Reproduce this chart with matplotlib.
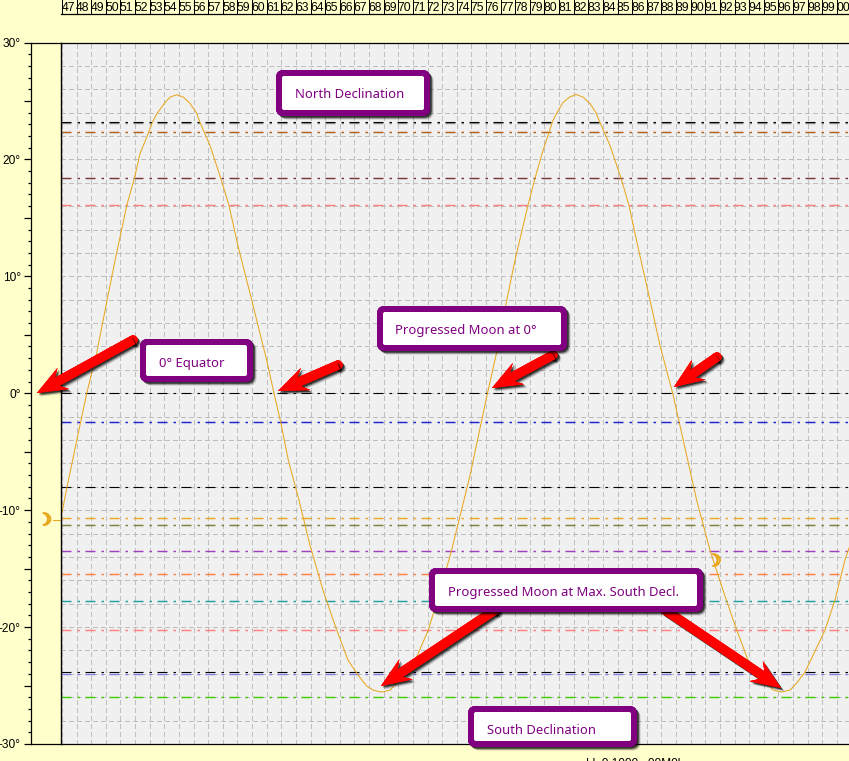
import numpy as np
import matplotlib
matplotlib.use("Agg")
import matplotlib.pyplot as plt
import matplotlib.patheffects as pe
from matplotlib.patches import FancyBboxPatch, Polygon, Circle

plt.rcParams['lines.scale_dashes'] = False

W, H = 849, 761
BG = '#FFFFCC'
PLOT_BG = '#F0F0F0'
GRID = '#BEBEBE'
PURPLE = '#800080'
MOON = '#E8A820'
PX = 0.72  # one pixel in points at dpi 100

# ---- data -----------------------------------------------------------------
years = [46.9, 47.41, 48.69, 49.37, 50.08, 50.63, 51.43, 51.95, 52.34, 52.79, 53.18, 53.48,
         54.05, 54.39, 54.85, 55.3, 55.76, 56.21, 56.44, 57.12, 57.86, 58.42, 59.06, 59.98,
         61.0, 61.5, 61.96, 62.48, 63.21, 63.96, 64.85, 65.67, 66.56, 67.25, 67.84, 68.29,
         68.87, 69.43, 69.89, 70.53, 71.26, 72.05, 72.85, 73.65, 74.91, 76.1, 76.73, 77.42,
         77.98, 78.87, 79.35, 79.9, 80.58, 80.81, 81.27, 81.72, 82.16, 82.63, 83.11, 83.54,
         83.8, 84.48, 85.24, 85.78, 86.4, 87.22, 87.9, 88.77, 89.34, 90.41, 91.32, 92.21,
         93.03, 93.92, 94.54, 95.2, 95.65, 96.23, 96.8, 97.25, 97.82, 99.19, 99.87, 100.55,
         100.9]
declination = [-10.85, -7.6, 0.0, 3.42, 7.95, 11.37, 16.07, 18.38, 20.51, 21.88, 23.16, 23.9,
               24.87, 25.33, 25.53, 25.33, 24.79, 23.95, 23.16, 21.2, 18.38, 16.07, 12.48, 7.95,
               2.82, 0.0, -2.48, -5.73, -9.15, -12.99, -16.84, -19.83, -22.82, -24.1, -25.04,
               -25.4, -25.56, -25.4, -24.79, -23.85, -22.56, -20.26, -17.0, -13.42, -7.01, 0.0,
               3.5, 7.95, 11.37, 16.07, 18.38, 20.77, 23.33, 23.9, 24.87, 25.33, 25.56, 25.33,
               24.79, 23.95, 23.16, 21.2, 18.38, 16.07, 12.48, 7.95, 4.1, 0.0, -3.16, -9.15,
               -13.42, -16.84, -19.83, -22.82, -24.0, -24.79, -25.38, -25.56, -25.38, -24.79,
               -23.85, -20.26, -17.69, -14.27, -13.0]

level_values = [23.08, 23.16, 22.35, 18.4, 16.13, 0.0, -2.5, -8.0, -10.71, -11.31,
                -13.53, -15.5, -17.8, -20.29, -23.99, -23.82, -25.96]
level_colors = ['#909090', '#000000', '#B06018', '#783838', '#FF8080', '#000000',
                '#2020D0', '#000000', '#E8A820', '#808040', '#A040C0', '#FF8040',
                '#20A0A0', '#FF8080', '#8080E0', '#000000', '#40D000']

year_values = list(range(47, 101))
year_labels = [f'{y % 100:02d}' for y in year_values]
moon_marks = [(46.9, -10.85), (91.6, -14.36)]

y_major = list(range(-30, 31, 5))
y_labels = {-30: '-30°', -20: '-20°', -10: '-10°', 0: '0°', 10: '10°', 20: '20°', 30: '30°'}

# ---- figure ---------------------------------------------------------------
fig = plt.figure(figsize=(W / 100, H / 100), dpi=100, facecolor=BG)
L, R, T, B = 60.5, 849.0, 42.5, 744.0
ax = fig.add_axes([L / W, 1 - B / H, (R - L) / W, (B - T) / H], facecolor=PLOT_BG)
xlim = (46.897, 100.83)
ax.set_xlim(*xlim)
ax.set_ylim(-30, 30)

# grid
for yr in year_values:
    ax.axvline(yr, color=GRID, lw=PX, dashes=(4.5 * PX, 3.5 * PX), zorder=1, antialiased=False)
for v in range(-28, 30, 2):
    ax.axhline(v, color=GRID, lw=PX, dashes=(4.5 * PX, 3.5 * PX), zorder=1, antialiased=False)

# reference levels
for v, c in zip(level_values, level_colors):
    width = 1.1 if c == '#000000' else 1.45
    ax.axhline(v, color=c, lw=width * PX, dashes=(10 * PX, 6 * PX, 2.5 * PX, 5.5 * PX), zorder=2)

# curve
ax.plot(years, declination, color=MOON, lw=0.75, zorder=3)

# axes decoration
ax.xaxis.set_visible(False)
ax.spines['right'].set_visible(False)
ax.spines['top'].set_linewidth(0.9)
ax.spines['bottom'].set_linewidth(0.9)
ax.spines['left'].set_position(('outward', 30 * PX))
ax.spines['left'].set_linewidth(0.9)
ax.axvline(xlim[0], color='black', lw=1.0, zorder=5, clip_on=False)
ax.set_yticks(y_major)
ax.set_yticklabels([y_labels.get(v, '') for v in y_major], fontfamily='Liberation Sans', fontsize=8.6)
ax.set_yticks(range(-30, 31), minor=True)
ax.tick_params(axis='y', which='major', length=7 * PX, width=0.9, pad=2)
ax.tick_params(axis='y', which='minor', length=3 * PX, width=0.9)
tr = ax.get_yaxis_transform()
for v in (30, -30):
    ax.plot([-30 / (R - L), 0], [v, v], transform=tr, color='black', lw=0.9, clip_on=False)

# year strip on top
ax_top = fig.add_axes([L / W, 1 - 13.5 / H, (R - L) / W, 13.5 / H], facecolor=BG)
ax_top.set_xlim(*xlim)
ax_top.set_ylim(0, 1)
ax_top.set_yticks([])
ax_top.set_xticks([])
for s in ('top', 'right', 'left'):
    ax_top.spines[s].set_visible(False)
ax_top.spines['bottom'].set_linewidth(0.9)
for yr, lab in zip(year_values, year_labels):
    ax_top.axvline(yr, color='black', lw=0.72)
    ax_top.text(yr + 0.42, 0.42, lab, ha='center', va='center',
                fontfamily='Liberation Sans', fontsize=8.8, color='black')

# overlay in pixel coordinates for the callouts
ov = fig.add_axes([0, 0, 1, 1], facecolor='none', zorder=10)
ov.set_xlim(0, W)
ov.set_ylim(H, 0)
ov.axis('off')

shadow = [pe.withSimplePatchShadow(offset=(2.6, -2.6), shadow_rgbFace='black', alpha=0.15),
          pe.withSimplePatchShadow(offset=(1.9, -1.9), shadow_rgbFace='black', alpha=0.35),
          pe.withSimplePatchShadow(offset=(1.2, -1.2), shadow_rgbFace='black', alpha=0.6),
          pe.Normal()]


def arrow(tail, tip, z=11):
    tail, tip = np.array(tail, float), np.array(tip, float)
    u = (tip - tail) / np.hypot(*(tip - tail))
    n = np.array([-u[1], u[0]])
    hw, sw = 12.0, 4.6
    pts = [tip, tip - 30 * u + hw * n, tip - 23 * u + sw * n, tail + sw * n,
           tail - sw * n, tip - 23 * u - sw * n, tip - 30 * u - hw * n]
    ov.add_patch(Circle(tail, sw, fc='#FF0000', ec='none', zorder=z, path_effects=shadow))
    ov.add_patch(Polygon(pts, closed=True, fc='#FF0000', ec='none', zorder=z, path_effects=shadow))


def callout(x0, y0, x1, y1, text, tx, ty):
    b = 6
    ov.add_patch(FancyBboxPatch((x0 + b, y0 + b), x1 - x0 - 2 * b, y1 - y0 - 2 * b,
                                boxstyle='round,pad=6,rounding_size=8', fc=PURPLE, ec='none',
                                zorder=12, path_effects=shadow))
    ov.add_patch(FancyBboxPatch((x0 + b, y0 + b), x1 - x0 - 2 * b, y1 - y0 - 2 * b,
                                boxstyle='round,pad=0,rounding_size=2', fc='white', ec='none', zorder=13))
    ov.text(tx, ty, text, color=PURPLE, ha='left', va='center',
            fontfamily='Noto Sans', fontsize=9.4, zorder=14)


arrow((133, 340), (37, 393))
arrow((338, 365), (278, 391))
arrow((553, 355), (492, 388))
arrow((717, 357), (674, 387))
arrow((495, 610), (381, 686))
arrow((665, 610), (781, 688))

callout(276, 70, 430, 116, 'North Declination', 295, 94.5)
callout(140, 339, 253, 382, '0° Equator', 159, 363.5)
callout(377, 306, 567, 351, 'Progressed Moon at 0°', 395, 330.5)
callout(429, 568, 703, 612, 'Progressed Moon at Max. South Decl.', 448, 592.5)
callout(468, 706, 637, 747, 'South Declination', 487, 730.5)

# moon glyphs tied to the data axes
moon_fx = [pe.withStroke(linewidth=1.0, foreground=MOON)]
ax.plot([-8 / (R - L), 0], [moon_marks[0][1], moon_marks[0][1]], transform=tr,
        color=MOON, lw=0.75, clip_on=False, zorder=4)
ax.annotate('☽', xy=moon_marks[0], xytext=(-16, 0), textcoords='offset pixels', ha='center', va='center',
            color=MOON, fontsize=12, fontfamily='DejaVu Sans', annotation_clip=False, zorder=6,
            path_effects=moon_fx)
ax.annotate('☽', xy=moon_marks[1], xytext=(0, 0), textcoords='offset pixels', ha='center', va='center',
            color=MOON, fontsize=12, fontfamily='DejaVu Sans', zorder=6, path_effects=moon_fx)

# cropped status text at the bottom edge
ov.text(633, 758, 'Ll  0.1000   00M0l', ha='center', va='top', fontfamily='Liberation Sans',
        fontsize=8.6, color='black', zorder=9, clip_on=False)

fig.savefig('out.png', dpi=100, facecolor=BG)
